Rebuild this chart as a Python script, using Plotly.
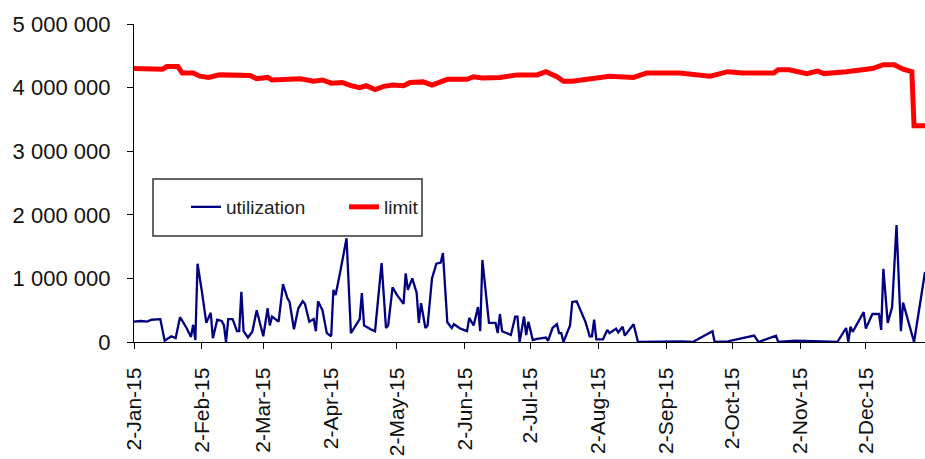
import pandas as pd
import plotly.graph_objects as go

START = "2015-01-02"

# utilization: days after 2-Jan-15, values
util_day = [0, 3, 6, 8, 12, 14, 17, 19, 21, 24, 26, 27, 28, 29, 31, 33, 35, 36, 38, 40,
            41, 42, 43, 45, 47, 48, 49, 50, 52, 54, 56, 57, 59, 61, 62, 63, 66, 68, 70, 71,
            73, 75, 77, 78, 80, 82, 83, 84, 86, 88, 90, 91, 92, 94, 95, 97, 99, 102, 103, 104,
            105, 108, 110, 113, 115, 116, 118, 120, 123, 124, 125, 127, 129, 130, 131, 133, 134, 136, 138, 140,
            141, 142, 143, 145, 146, 149, 152, 153, 155, 157, 158, 159, 162, 165, 166, 167, 168, 172, 174, 175,
            176, 178, 179, 180, 182, 184, 186, 188, 189, 191, 193, 194, 195, 196, 199, 200, 202, 204, 206, 208,
            209, 210, 211, 214, 216, 217, 220, 221, 223, 224, 226, 228, 230, 245, 250, 255, 264, 265, 271, 283,
            285, 293, 294, 302, 307, 314, 321, 325, 326, 327, 328, 333, 334, 337, 340, 341, 342, 344, 346, 348,
            350, 351, 356, 361]
util_val = [320000, 330000, 320000, 350000, 360000, 20000, 90000, 60000, 390000, 220000, 80000, 270000, 30000, 1230000, 790000, 300000, 460000, 60000, 350000, 330000,
            270000, 0, 360000, 360000, 170000, 170000, 790000, 170000, 70000, 160000, 500000, 350000, 90000, 530000, 260000, 400000, 320000, 910000, 690000, 630000,
            200000, 530000, 640000, 600000, 320000, 360000, 170000, 640000, 500000, 140000, 90000, 820000, 740000, 1080000, 1260000, 1630000, 140000, 320000, 360000, 770000,
            260000, 200000, 170000, 1240000, 220000, 260000, 860000, 740000, 600000, 1080000, 820000, 1000000, 770000, 300000, 610000, 220000, 260000, 1000000, 1230000, 1250000,
            1400000, 850000, 310000, 220000, 280000, 210000, 170000, 380000, 260000, 550000, 170000, 1290000, 300000, 300000, 140000, 440000, 170000, 110000, 400000, 400000,
            0, 400000, 110000, 320000, 30000, 50000, 60000, 70000, 20000, 220000, 280000, 140000, 140000, 0, 260000, 630000, 640000, 470000, 320000, 90000,
            90000, 350000, 40000, 40000, 190000, 140000, 210000, 150000, 240000, 100000, 200000, 280000, 0, 10000, 10000, 0, 170000, 0, 10000, 100000,
            0, 100000, 0, 20000, 20000, 10000, 0, 220000, 0, 240000, 160000, 470000, 210000, 440000, 440000, 190000, 1150000, 300000, 550000, 1840000,
            170000, 620000, 0, 1100000]

# limit: days after 2-Jan-15, values
limit_day = [0, 6, 9, 13, 15, 20, 22, 27, 30, 34, 39, 53, 56, 61, 63, 76, 82, 86, 90, 95,
             99, 103, 106, 110, 114, 118, 123, 126, 132, 136, 143, 152, 155, 159, 167, 175, 184, 188, 193, 196,
             200, 213, 217, 228, 234, 249, 255, 263, 271, 278, 292, 294, 299, 307, 312, 315, 325, 335, 337, 342,
             347, 351, 355, 356, 361]
limit_val = [4300000, 4300000, 4290000, 4290000, 4330000, 4330000, 4230000, 4230000, 4180000, 4160000, 4200000, 4190000, 4140000, 4160000, 4120000, 4140000, 4100000, 4120000, 4070000, 4080000,
             4030000, 4000000, 4030000, 3970000, 4020000, 4040000, 4030000, 4080000, 4090000, 4040000, 4130000, 4130000, 4170000, 4150000, 4160000, 4200000, 4200000, 4250000, 4170000, 4100000,
             4100000, 4150000, 4180000, 4160000, 4230000, 4230000, 4210000, 4180000, 4250000, 4230000, 4230000, 4280000, 4280000, 4220000, 4260000, 4220000, 4250000, 4280000, 4300000, 4360000,
             4360000, 4290000, 4250000, 3400000, 3400000]

tick_dates = ["2015-01-02", "2015-02-02", "2015-03-02", "2015-04-02", "2015-05-02", "2015-06-02",
              "2015-07-02", "2015-08-02", "2015-09-02", "2015-10-02", "2015-11-02", "2015-12-02"]
tick_text = ["2-Jan-15", "2-Feb-15", "2-Mar-15", "2-Apr-15", "2-May-15", "2-Jun-15",
             "2-Jul-15", "2-Aug-15", "2-Sep-15", "2-Oct-15", "2-Nov-15", "2-Dec-15"]
y_ticks = [0, 1000000, 2000000, 3000000, 4000000, 5000000]

start = pd.Timestamp(START)
util_x = start + pd.to_timedelta(util_day, unit="D")
limit_x = start + pd.to_timedelta(limit_day, unit="D")

FONT = "Liberation Sans, Arial, sans-serif"

fig = go.Figure()
fig.add_trace(go.Scatter(x=util_x, y=util_val, mode="lines", name="utilization",
                         line=dict(color="#000080", width=2.3)))
fig.add_trace(go.Scatter(x=limit_x, y=limit_val, mode="lines", name="limit",
                         line=dict(color="#FF0000", width=5)))

W, H = 925, 459
L, R, T, B = 134, 0, 24, 117
pw, ph = W - L - R, H - T - B

def px_x(p):
    return (p - L) / pw

def px_y(p):
    return (H - B - p) / ph

fig.add_shape(type="rect", xref="paper", yref="paper",
              x0=px_x(153), x1=px_x(422), y0=px_y(236), y1=px_y(179),
              line=dict(color="#333333", width=1.5), fillcolor="white", layer="above")

fig.update_layout(
    width=W, height=H,
    margin=dict(l=L, r=R, t=T, b=B, pad=0, autoexpand=False),
    paper_bgcolor="white", plot_bgcolor="white",
    separators=". ",
    font=dict(family=FONT, size=21, color="#111111"),
    showlegend=True,
    legend=dict(orientation="h", x=px_x(186), y=px_y(207), xanchor="left", yanchor="middle",
                bgcolor="rgba(0,0,0,0)", borderwidth=0, font=dict(size=19, color="#222222"),
                entrywidth=113, entrywidthmode="pixels", itemclick=False),
    xaxis=dict(type="date", range=["2015-01-02", "2015-12-29"], automargin=False,
               tickmode="array", tickvals=tick_dates, ticktext=tick_text, tickangle=-90,
               showline=True, linecolor="#000000", linewidth=1.3,
               ticks="outside", ticklen=6, tickcolor="#000000", tickwidth=1.3,
               showgrid=False, zeroline=False, ticklabelstandoff=10,
               tickfont=dict(size=21, color="#111111")),
    yaxis=dict(range=[0, 5000000], tickmode="array", tickvals=y_ticks, tickformat=",d",
               automargin=False,
               showline=True, linecolor="#000000", linewidth=1.3,
               ticks="outside", ticklen=6, tickcolor="#000000", tickwidth=1.3,
               showgrid=False, zeroline=False, ticklabelstandoff=12,
               tickfont=dict(size=22, color="#111111")),
)

fig.write_html("out.html")
